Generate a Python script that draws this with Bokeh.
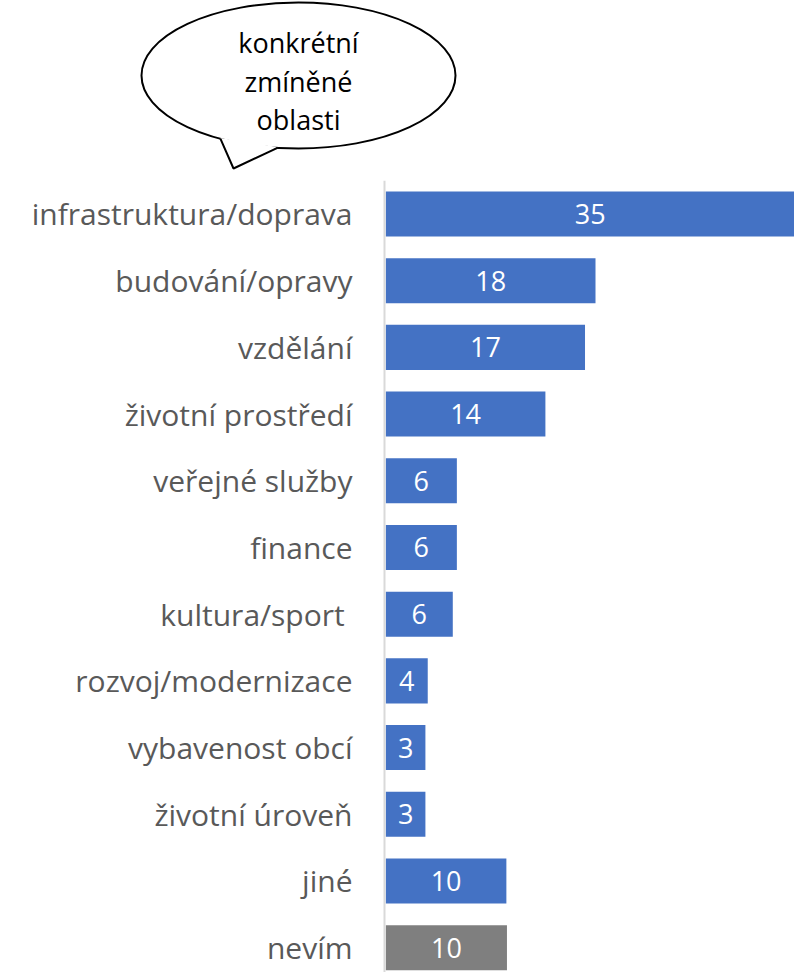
from bokeh.plotting import figure
from bokeh.layouts import column
from bokeh.models import Range1d, ColumnDataSource, Span
from bokeh.core.properties import value
from bokeh.embed import file_html
from bokeh.resources import INLINE

# ---- data ----
categories = ["infrastruktura/doprava", "budování/opravy", "vzdělání", "životní prostředí",
              "veřejné služby", "finance", "kultura/sport ", "rozvoj/modernizace",
              "vybavenost obcí", "životní úroveň", "jiné", "nevím"]
values = [35.1, 18.0, 17.1, 13.7, 6.1, 6.1, 5.75, 3.6, 3.4, 3.4, 10.35, 10.4]
labels = ["35", "18", "17", "14", "6", "6", "6", "4", "3", "3", "10", "10"]
colors = ["#4472C4"] * 11 + ["#7F7F7F"]
bubble_lines = ["konkrétní", "zmíněné", "oblasti"]

FONT = "Open Sans"
W = 794

# ---- speech bubble (top), pixel coordinates ----
top = figure(width=W, height=180, x_range=Range1d(0, W), y_range=Range1d(180, 0),
             output_backend="svg", toolbar_location=None, min_border=0,
             x_axis_type=None, y_axis_type=None, outline_line_color=None)
top.grid.visible = False
top.ellipse(x=298, y=75, width=314, height=146, fill_color="white",
            line_color="black", line_width=2)
top.patch([220, 233, 277], [137.5, 168, 146.5], fill_color="white", line_color=None)
top.line([220, 233, 277], [138.3, 168, 147.3], line_color="black", line_width=2)
top.text(x=[298, 298, 298], y=[42, 81, 119], text=bubble_lines,
         text_align="center", text_baseline="middle", text_color="black",
         text_font=value(FONT), text_font_size="27px")

# ---- bar chart ----
n = len(categories)
PX = 11.65          # pixels per unit
X0 = 385.3          # pixel of value 0
x_start = -X0 / PX
x_end = x_start + W / PX
label_x = (352 - X0) / PX
axis_x = (384 - X0) / PX

src = ColumnDataSource(dict(y=list(range(n)), v=values, half=[v / 2 for v in values],
                            lab=labels, c=colors, cat=categories,
                            lx=[label_x] * n))
p = figure(width=W, height=792, x_range=Range1d(x_start, x_end),
           y_range=Range1d(11.372, -0.502), output_backend="svg",
           toolbar_location=None, min_border=0, outline_line_color=None,
           x_axis_type=None, y_axis_type=None)
p.grid.visible = False
p.add_layout(Span(location=axis_x, dimension="height", line_color="#D9D9D9", line_width=2))
p.hbar(y="y", right="v", left=0, height=0.675, fill_color="c", line_color=None, source=src)
p.text(x="half", y="y", text="lab", text_align="center", text_baseline="middle",
       text_color="white", text_font=value(FONT), text_font_size="27px", source=src)
p.text(x="lx", y="y", text="cat", text_align="right", text_baseline="middle",
       text_color="#595959", text_font=value(FONT), text_font_size="30px", source=src)

layout = column(top, p, spacing=0)
open("out.html", "w").write(file_html(layout, INLINE))
